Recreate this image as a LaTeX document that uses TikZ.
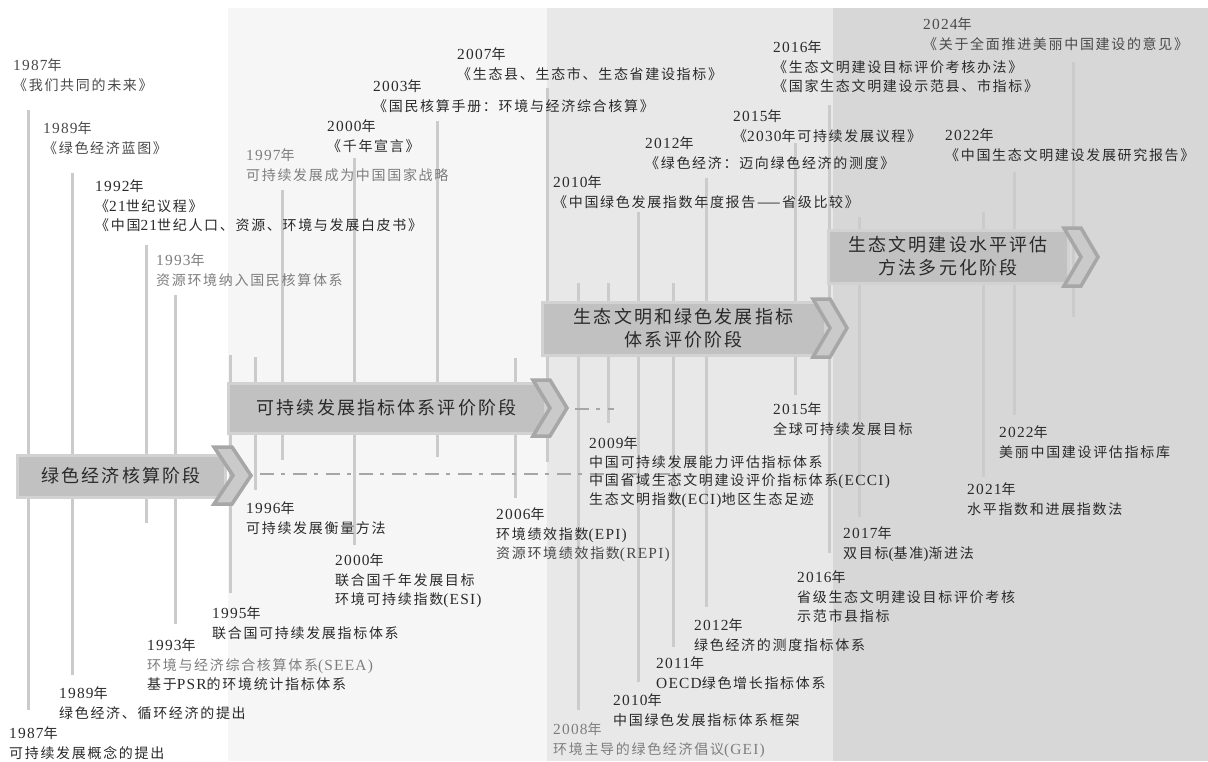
\documentclass[tikz,border=0pt]{standalone}
\usepackage{fontspec}
\setmainfont{Noto Sans CJK SC}[LetterSpace=12]
\newfontfamily\latfont[Scale=1.1,LetterSpace=8]{Liberation Serif}
\newcommand\lt[1]{{\latfont #1}}
\definecolor{bandA}{HTML}{F6F6F6}
\definecolor{bandB}{HTML}{E8E8E8}
\definecolor{bandC}{HTML}{D7D7D7}
\definecolor{stalk}{HTML}{CBCBCB}
\definecolor{boxfill}{HTML}{C1C1C1}
\definecolor{boxedge}{HTML}{D2D2D2}
\definecolor{chevfill}{HTML}{CACACA}
\definecolor{chevedge}{HTML}{A7A7A7}
\definecolor{dashcol}{HTML}{A6A6A6}
\definecolor{txt}{HTML}{2A2A2A}
\definecolor{txtm}{HTML}{4A4A4A}
\definecolor{txtg}{HTML}{7E7E7E}
\tikzset{
  stalkline/.style={draw=stalk, line width=3pt},
  stagebox/.style={draw=boxedge, fill=boxfill, line width=3pt, inner sep=0pt, align=center,
    text=txt, font=\fontsize{18}{23}\selectfont},
  chevshape/.style={draw=chevedge, fill=chevfill, line width=3.5pt, line join=miter},
  dashdot/.style={draw=dashcol, line width=2.5pt, dash pattern=on 14pt off 7pt on 4pt off 8pt},
  lbl/.style={anchor=north west, inner sep=0pt, align=left, text=txt, font=\fontsize{14}{19.5}\selectfont},
  lblm/.style={lbl, text=txtm},
  lblg/.style={lbl, text=txtg}
}
\newcommand\mkchev[5]{%
  \path[chevshape] ({#1},{#2}) -- ({#1+#5},{#2}) -- ({#1+#4},{(#2+#3)/2}) -- ({#1+#5},{#3})
    -- ({#1},{#3}) -- ({#1+#4-#5},{(#2+#3)/2}) -- cycle;}
\begin{document}
\begin{tikzpicture}[x=1pt, y=-1pt]
\useasboundingbox (0,0) rectangle (1208,761);
% background bands
\fill[white] (0,0) rectangle (1208,761);
\fill[bandA] (228,8) rectangle (547,761);
\fill[bandB] (547,8) rectangle (833,761);
\fill[bandC] (833,8) rectangle (1208,761);
% vertical stalks
\foreach \x/\ya/\yb in {28/110/710, 72/173/675, 146/245/523, 175/295/624, 230/355/593,
  255/357/490, 282/190/460, 354/158/545, 437/121/457, 515/358/498, 547/88/462,
  578/283/710, 608/283/423, 638/212/682, 673/283/647, 706/178/607, 795/143/395,
  829/105/553, 859/217/517, 983/212/477, 1014/172/415, 1073/62/317}
  \draw[stalkline] (\x,\ya) -- (\x,\yb);
% stage boxes
\node[stagebox, minimum width=208pt, minimum height=42pt] (s1) at (121,476) {绿色经济核算阶段};
\node[stagebox, minimum width=317pt, minimum height=50pt] (s2) at (386.5,408) {可持续发展指标体系评价阶段};
\node[stagebox, minimum width=283pt, minimum height=53pt] (s3) at (683.5,328.5) {生态文明和绿色发展指标\\体系评价阶段};
\node[stagebox, minimum width=240pt, minimum height=53pt] (s4) at (948,256.5) {生态文明建设水平评估\\方法多元化阶段};
% chevrons
\mkchev{214}{447}{504}{37}{18}
\mkchev{533}{380}{436}{34}{17}
\mkchev{813}{299}{357}{34}{17}
\mkchev{1064}{228}{286}{34}{17}
\coordinate (c1) at (260,474);
\coordinate (d1) at (692,474);
\coordinate (c2) at (575,409);
\coordinate (d2) at (614,409);
\draw[dashdot] (c1) -- (d1);
\draw[dashdot] (c2) -- (d2);
% top labels
\node[lblm] (t1) at (13,58.5) {\lt{1987}年\\《我们共同的未来》};
\node[lblm] (t2) at (43,121.5) {\lt{1989}年\\《绿色经济蓝图》};
\node[lbl] (t3) at (95,179.5) {\lt{1992}年\\《\lt{21}世纪议程》\\《中国\lt{21}世纪人口、资源、环境与发展白皮书》};
\node[lblg] (t4) at (156,253.5) {\lt{1993}年\\资源环境纳入国民核算体系};
\node[lblg] (t5) at (246,148.5) {\lt{1997}年\\可持续发展成为中国国家战略};
\node[lbl] (t6) at (327,119.5) {\lt{2000}年\\《千年宣言》};
\node[lbl] (t7) at (373,79.5) {\lt{2003}年\\《国民核算手册：环境与经济综合核算》};
\node[lbl] (t8) at (457,47.5) {\lt{2007}年\\《生态县、生态市、生态省建设指标》};
\node[lbl] (t9) at (553,175.5) {\lt{2010}年\\《中国绿色发展指数年度报告——省级比较》};
\node[lbl] (t10) at (645,136.5) {\lt{2012}年\\《绿色经济：迈向绿色经济的测度》};
\node[lbl] (t11) at (733,109.5) {\lt{2015}年\\《\lt{2030}年可持续发展议程》};
\node[lbl] (t12) at (773,40.5) {\lt{2016}年\\《生态文明建设目标评价考核办法》\\《国家生态文明建设示范县、市指标》};
\node[lbl] (t13) at (945,128.5) {\lt{2022}年\\《中国生态文明建设发展研究报告》};
\node[lblm] (t14) at (923,17.5) {\lt{2024}年\\《关于全面推进美丽中国建设的意见》};
% bottom labels
\node[lbl] (b1) at (246,501.5) {\lt{1996}年\\可持续发展衡量方法};
\node[lbl] (b2) at (335,553.5) {\lt{2000}年\\联合国千年发展目标\\环境可持续指数\lt{(ESI)}};
\node[lbl] (b3) at (212,606.5) {\lt{1995}年\\联合国可持续发展指标体系};
\node[lbl] (b4) at (147,638.5) {\lt{1993}年\\\textcolor{txtg}{环境与经济综合核算体系\lt{(SEEA)}}\\基于\lt{PSR}的环境统计指标体系};
\node[lbl] (b5) at (59,686.5) {\lt{1989}年\\绿色经济、循环经济的提出};
\node[lbl] (b6) at (9,726.5) {\lt{1987}年\\可持续发展概念的提出};
\node[lbl] (b7) at (496,507.5) {\lt{2006}年\\环境绩效指数\lt{(EPI)}\\\textcolor{txtm}{资源环境绩效指数\lt{(REPI)}}};
\node[lbl, font=\fontsize{14}{18.5}\selectfont] (b8) at (589,436.5) {\lt{2009}年\\中国可持续发展能力评估指标体系\\中国省域生态文明建设评价指标体系\lt{(ECCI)}\\生态文明指数\lt{(ECI)}地区生态足迹};
\node[lbl] (b9) at (773,402.5) {\lt{2015}年\\全球可持续发展目标};
\node[lbl] (b10) at (999,425.5) {\lt{2022}年\\美丽中国建设评估指标库};
\node[lbl] (b11) at (967,482.5) {\lt{2021}年\\水平指数和进展指数法};
\node[lbl] (b12) at (843,526.5) {\lt{2017}年\\双目标\lt{(}基准\lt{)}渐进法};
\node[lbl] (b13) at (797,570.5) {\lt{2016}年\\省级生态文明建设目标评价考核\\示范市县指标};
\node[lbl] (b14) at (694,618.5) {\lt{2012}年\\绿色经济的测度指标体系};
\node[lbl] (b15) at (656,656.5) {\lt{2011}年\\\lt{OECD}绿色增长指标体系};
\node[lbl] (b16) at (613,693.5) {\lt{2010}年\\中国绿色发展指标体系框架};
\node[lblg] (b17) at (553,722.5) {\lt{2008}年\\环境主导的绿色经济倡议\lt{(GEI)}};
\end{tikzpicture}
\end{document}
